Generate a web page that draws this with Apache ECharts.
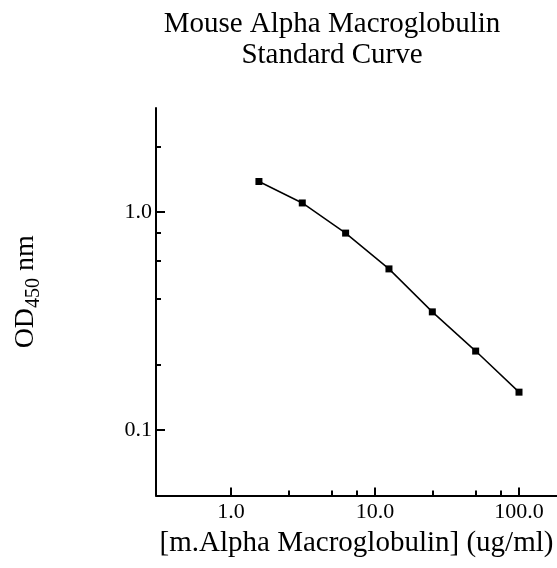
<!DOCTYPE html>
<html>
<head>
<meta charset="utf-8">
<script src="https://cdn.jsdelivr.net/npm/echarts@6/dist/echarts.min.js"></script>
<style>
html,body{margin:0;padding:0;background:#fff;}
#chart{width:557px;height:568px;}
</style>
</head>
<body>
<div id="chart"></div>
<script>
// Data
const concentrations = [1.5625, 3.125, 6.25, 12.5, 25, 50, 100];
const odValues = [1.38, 1.10, 0.80, 0.548, 0.348, 0.230, 0.149];

// Tick positions
const xMajorTicks = [1, 10, 100];
const xMinorTicks = [2.5, 5, 7.5, 25, 50, 75];
const yMajorTicks = [0.1, 1];
const yMinorTicks = [0.2, 0.4, 0.6, 0.8, 2];

const titleText = 'Mouse Alpha Macroglobulin\nStandard Curve';
const xTitle = '[m.Alpha Macroglobulin] (ug/ml)';

const FONT = '"Liberation Serif", "Times New Roman", serif';

const chart = echarts.init(document.getElementById('chart'), null, {renderer: 'canvas'});

const xRange = {min: 0.3013, max: 183.6};
const yRange = {min: 0.05, max: 3};

const data = concentrations.map((c, i) => [c, odValues[i]]);

const option = {
  backgroundColor: '#fff',
  animation: false,
  title: {
    text: titleText,
    left: 332,
    top: 9,
    padding: 0,
    textAlign: 'center',
    textStyle: {fontFamily: FONT, fontSize: 29, fontWeight: 'normal', color: '#000', lineHeight: 31}
  },
  grid: {left: 156, right: 0, top: 108, bottom: 72.5, outerBoundsMode: 'none', containLabel: false},
  xAxis: [{
    type: 'log', logBase: 10, min: xRange.min, max: xRange.max,
    position: 'bottom',
    axisLine: {show: true, lineStyle: {color: '#000', width: 2}},
    axisTick: {show: true, inside: true, length: 8, customValues: xMajorTicks, lineStyle: {color: '#000', width: 2}},
    axisLabel: {show: true, customValues: xMajorTicks, margin: 6, fontFamily: FONT, fontSize: 22, color: '#000',
      formatter: v => Number(v).toFixed(1)},
    splitLine: {show: false},
    minorTick: {show: false},
    name: xTitle, nameLocation: 'middle', nameGap: 33,
    nameTextStyle: {fontFamily: FONT, fontSize: 29, color: '#000'}
  }, {
    type: 'log', logBase: 10, min: xRange.min, max: xRange.max,
    position: 'bottom', gridIndex: 0,
    axisLine: {show: false},
    axisTick: {show: true, inside: true, length: 5, customValues: xMinorTicks, lineStyle: {color: '#000', width: 2}},
    axisLabel: {show: false},
    splitLine: {show: false}
  }],
  yAxis: [{
    type: 'log', logBase: 10, min: yRange.min, max: yRange.max,
    position: 'left',
    axisLine: {show: true, lineStyle: {color: '#000', width: 2}},
    axisTick: {show: true, inside: true, length: 9, customValues: yMajorTicks, lineStyle: {color: '#000', width: 2}},
    axisLabel: {show: true, customValues: yMajorTicks, margin: 4, fontFamily: FONT, fontSize: 22, color: '#000',
      formatter: v => (Number(v) >= 1 ? Number(v).toFixed(1) : String(Number(v)))},
    splitLine: {show: false},
    name: 'OD{sub|450} nm', nameLocation: 'middle', nameRotate: 90, nameGap: 112,
    nameTextStyle: {fontFamily: FONT, fontSize: 28, color: '#000', lineHeight: 36, padding: [0, 0, 0, 20],
      rich: {sub: {fontFamily: FONT, fontSize: 20, color: '#000', lineHeight: 20, verticalAlign: 'bottom'}}}
  }, {
    type: 'log', logBase: 10, min: yRange.min, max: yRange.max,
    position: 'left', gridIndex: 0,
    axisLine: {show: false},
    axisTick: {show: true, inside: true, length: 5, customValues: yMinorTicks, lineStyle: {color: '#000', width: 2}},
    axisLabel: {show: false},
    splitLine: {show: false}
  }],
  series: [{
    type: 'line',
    xAxisIndex: 0, yAxisIndex: 0,
    data: data,
    symbol: 'rect', symbolSize: 7,
    itemStyle: {color: '#000'},
    lineStyle: {color: '#000', width: 1.5},
    silent: true
  }]
};
chart.setOption(option);
</script>
</body>
</html>
